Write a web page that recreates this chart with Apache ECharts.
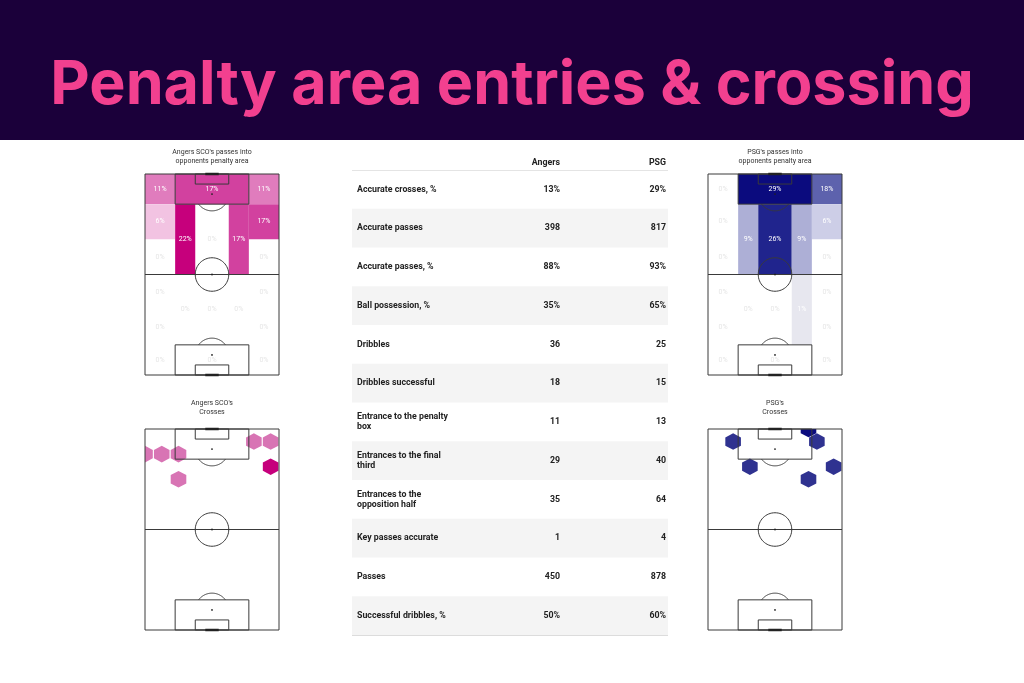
<!DOCTYPE html>
<html><head><meta charset="utf-8">
<script src="https://cdn.jsdelivr.net/npm/echarts@6/dist/echarts.min.js"></script>
<style>html,body{margin:0;padding:0;background:#fff}#c{width:1024px;height:683px}</style>
</head><body><div id="c"></div>
<script>
// ---------------- DATA ----------------
const titleText = 'Penalty area entries & crossing';
const heatTitles = ["Angers SCO's passes into\nopponents penalty area", "PSG's passes into\nopponents penalty area"];
const crossTitles = ["Angers SCO's\nCrosses", "PSG's\nCrosses"];
const teamHeaders = ['Angers', 'PSG'];

// zone bins on an 80 x 120 pitch (x0, x1, y0, y1), attacking towards the top
const zones = [
  [0,18,0,18],[18,62,0,18],[62,80,0,18],
  [0,18,18,39],[62,80,18,39],
  [0,18,39,60],[62,80,39,60],
  [18,30,18,60],[30,50,18,60],[50,62,18,60],
  [0,18,60,81],[62,80,60,81],
  [0,18,81,102],[62,80,81,102],
  [0,18,102,120],[62,80,102,120],
  [18,30,60,102],[30,50,60,102],[50,62,60,102],
  [18,62,102,120]
];
const angersZonePct = [11,17,11, 6,17, 0,0, 22,0,17, 0,0, 0,0, 0,0, 0,0,0, 0];
const psgZonePct    = [0,29,18, 0,6, 0,0, 9,26,9, 0,0, 0,0, 0,0, 0,0,1, 0];

// crosses (hexbin centres, pitch units) and counts
const angersCrossX = [0,10,20,65,75,75,20];
const angersCrossY = [15,15,15,7.5,7.5,22.5,30];
const angersCrossN = [1,1,1,1,1,2,1];
const psgCrossX = [15,60,65,25,75,60];
const psgCrossY = [7.5,0,7.5,22.5,22.5,30];
const psgCrossN = [1,2,1,1,1,1];

// stats table
const statLabels = ['Accurate crosses, %','Accurate passes','Accurate passes, %','Ball possession, %','Dribbles','Dribbles successful','Entrance to the penalty\nbox','Entrances to the final\nthird','Entrances to the\nopposition half','Key passes accurate','Passes','Successful dribbles, %'];
const angersStats = [13,398,88,35,36,18,11,29,35,1,450,50];
const psgStats    = [29,817,93,65,25,15,13,40,64,4,878,60];

// ---------------- STYLE ----------------
const angersStops = [[0,'#ffffff'],[6,'#f2c3e2'],[11,'#e07cbd'],[17,'#d2419f'],[22,'#c6007c']];
const psgStops = [[0,'#ffffff'],[1,'#e7e7ef'],[6,'#cdcee7'],[9,'#adafd6'],[18,'#5d62ad'],[26,'#20248d'],[29,'#0b0b7e']];
function hex2rgb(h){return [parseInt(h.substr(1,2),16),parseInt(h.substr(3,2),16),parseInt(h.substr(5,2),16)];}
function colorFor(stops, v){
  if (v <= stops[0][0]) return stops[0][1];
  for (let i=1;i<stops.length;i++){
    if (v <= stops[i][0]){
      const t=(v-stops[i-1][0])/(stops[i][0]-stops[i-1][0]);
      const a=hex2rgb(stops[i-1][1]), b=hex2rgb(stops[i][1]);
      return 'rgb('+a.map((c,k)=>Math.round(c+(b[k]-c)*t)).join(',')+')';
    }
  }
  return stops[stops.length-1][1];
}
const LINE = '#3a3a3a';
const FONT = 'Roboto, "Liberation Sans", sans-serif';

function pitchRender(params, api){
  const rect=(x0,y0,x1,y1)=>[[x0,y0],[x1,y0],[x1,y1],[x0,y1],[x0,y0]];
  const arc=(cx,cy,r,a0,a1)=>{const p=[];for(let k=0;k<=64;k++){const a=a0+(a1-a0)*k/64;p.push([cx+r*Math.cos(a),cy+r*Math.sin(a)]);}return p;};
  const d=Math.asin(0.6);
  const polys=[rect(0,0,80,120),[[0,60],[80,60]],rect(18,0,62,18),rect(30,0,50,6),rect(18,102,62,120),rect(30,114,50,120),
    arc(40,60,10,0,Math.PI*2),arc(40,12,10,d,Math.PI-d),arc(40,108,10,Math.PI+d,Math.PI*2-d)];
  const children=polys.map(pl=>({type:'polyline',shape:{points:pl.map(p=>api.coord(p))},style:{stroke:LINE,lineWidth:1,fill:null},silent:true}));
  [[36,0,44,0],[36,120,44,120]].forEach(g=>{const a=api.coord([g[0],g[1]]),b=api.coord([g[2],g[3]]);children.push({type:'line',shape:{x1:a[0],y1:a[1],x2:b[0],y2:b[1]},style:{stroke:'#222',lineWidth:2.5}});});
  [[40,12],[40,108],[40,60]].forEach(s=>{const c=api.coord(s);children.push({type:'circle',shape:{cx:c[0],cy:c[1],r:0.9},style:{fill:'#222'}});});
  return {type:'group',children};
}
function heatRender(stops){
  return function(params, api){
    const p0=api.coord([api.value(0),api.value(2)]), p1=api.coord([api.value(1),api.value(3)]);
    const v=api.value(4);
    const x=Math.min(p0[0],p1[0]), y=Math.min(p0[1],p1[1]), w=Math.abs(p1[0]-p0[0]), h=Math.abs(p1[1]-p0[1]);
    const children=[];
    if (v>0) children.push({type:'rect',shape:{x,y,width:w,height:h},style:{fill:colorFor(stops,v)}});
    children.push({type:'text',style:{text:v+'%',x:x+w/2,y:y+h/2,align:'center',verticalAlign:'middle',fill:v>0?'#ffffff':'#e6e6e6',font:'7px '+FONT}});
    return {type:'group',children};
  };
}
function hexRender(light, dark){
  return function(params, api){
    const c=api.coord([api.value(0),api.value(1)]);
    const w=15.6/2, h=16.6/2;
    const pts=[[c[0],c[1]-h],[c[0]+w,c[1]-h/2],[c[0]+w,c[1]+h/2],[c[0],c[1]+h],[c[0]-w,c[1]+h/2],[c[0]-w,c[1]-h/2]];
    return {type:'polygon',shape:{points:pts},style:{fill:api.value(2)>1?dark:light}};
  };
}
function tableRender(params, api){
  const i=params.dataIndex;
  const cs=params.coordSys;
  const cy=api.coord([0,api.value(1)])[1];
  const bh=api.size([0,1])[1];
  const children=[];
  if (i%2===1) children.push({type:'rect',shape:{x:cs.x,y:cy-bh/2,width:cs.width,height:bh},style:{fill:'#f4f4f4'}});
  const pct=statLabels[i].trim().endsWith('%');
  const f=v=>pct?v+'%':String(v);
  const font='bold 8.8px '+FONT;
  children.push({type:'text',style:{text:statLabels[i],x:cs.x+5,y:cy,align:'left',verticalAlign:'middle',fill:'#222',font,lineHeight:10}});
  children.push({type:'text',style:{text:f(angersStats[i]),x:cs.x+208,y:cy,align:'right',verticalAlign:'middle',fill:'#222',font}});
  children.push({type:'text',style:{text:f(psgStats[i]),x:cs.x+314,y:cy,align:'right',verticalAlign:'middle',fill:'#222',font}});
  return {type:'group',children};
}

const grids=[
  {left:145,top:174,width:134,height:201},
  {left:708,top:174,width:134,height:201},
  {left:145,top:429,width:134,height:201},
  {left:708,top:429,width:134,height:201},
  {left:352,top:170,width:316,height:465}
];
const xAxes=[0,1,2,3].map(g=>({type:'value',gridIndex:g,min:0,max:80,show:false}));
xAxes.push({type:'value',gridIndex:4,min:0,max:1,show:false});
const yAxes=[0,1,2,3].map(g=>({type:'value',gridIndex:g,min:0,max:120,inverse:true,show:false}));
yAxes.push({type:'category',gridIndex:4,data:statLabels,inverse:true,show:false});

const series=[];
[[angersZonePct,angersStops],[psgZonePct,psgStops]].forEach((t,k)=>{
  series.push({type:'custom',xAxisIndex:k,yAxisIndex:k,renderItem:heatRender(t[1]),clip:false,
    data:zones.map((z,i)=>[z[0],z[1],z[2],z[3],t[0][i]]),encode:{x:[0,1],y:[2,3]},silent:true,z:1});
});
[[angersCrossX,angersCrossY,angersCrossN,'#d874b4','#c6007c'],[psgCrossX,psgCrossY,psgCrossN,'#2f3290','#0b0b7e']].forEach((t,k)=>{
  series.push({type:'custom',xAxisIndex:k+2,yAxisIndex:k+2,renderItem:hexRender(t[3],t[4]),clip:true,silent:true,z:1,
    data:t[0].map((x,i)=>[x,t[1][i],t[2][i]]),encode:{x:0,y:1}});
});
[0,1,2,3].forEach(g=>{
  series.push({type:'custom',xAxisIndex:g,yAxisIndex:g,renderItem:pitchRender,clip:false,data:[[40,60]],silent:true,z:3});
});
series.push({type:'custom',xAxisIndex:4,yAxisIndex:4,renderItem:tableRender,clip:false,silent:true,
  data:statLabels.map((l,i)=>[0,i])});

const graphic=[
  {type:'rect',shape:{x:0,y:0,width:1024,height:140},style:{fill:'#1b003a'},z:0},
  {type:'text',style:{text:titleText,x:512,y:86,align:'center',verticalAlign:'middle',fill:'#f2408f',font:'bold 61px Inter, '+FONT}},
  {type:'text',style:{text:heatTitles[0],x:212,y:157,align:'center',verticalAlign:'middle',fill:'#333',font:'7px '+FONT,lineHeight:9}},
  {type:'text',style:{text:heatTitles[1],x:775,y:157,align:'center',verticalAlign:'middle',fill:'#333',font:'7px '+FONT,lineHeight:9}},
  {type:'text',style:{text:crossTitles[0],x:212,y:408,align:'center',verticalAlign:'middle',fill:'#333',font:'7px '+FONT,lineHeight:9}},
  {type:'text',style:{text:crossTitles[1],x:775,y:408,align:'center',verticalAlign:'middle',fill:'#333',font:'7px '+FONT,lineHeight:9}},
  {type:'text',style:{text:teamHeaders[0],x:560,y:163,align:'right',verticalAlign:'middle',fill:'#222',font:'bold 8.8px '+FONT}},
  {type:'text',style:{text:teamHeaders[1],x:666,y:163,align:'right',verticalAlign:'middle',fill:'#222',font:'bold 8.8px '+FONT}},
  {type:'line',shape:{x1:352,y1:170.5,x2:668,y2:170.5},style:{stroke:'#e4e4e4',lineWidth:1}},
  {type:'line',shape:{x1:352,y1:635.5,x2:668,y2:635.5},style:{stroke:'#dcdcdc',lineWidth:1}}
];

const chart=echarts.init(document.getElementById('c'),null,{renderer:'canvas'});
chart.setOption({animation:false,backgroundColor:'#ffffff',grid:grids,xAxis:xAxes,yAxis:yAxes,series,graphic});
</script></body></html>
